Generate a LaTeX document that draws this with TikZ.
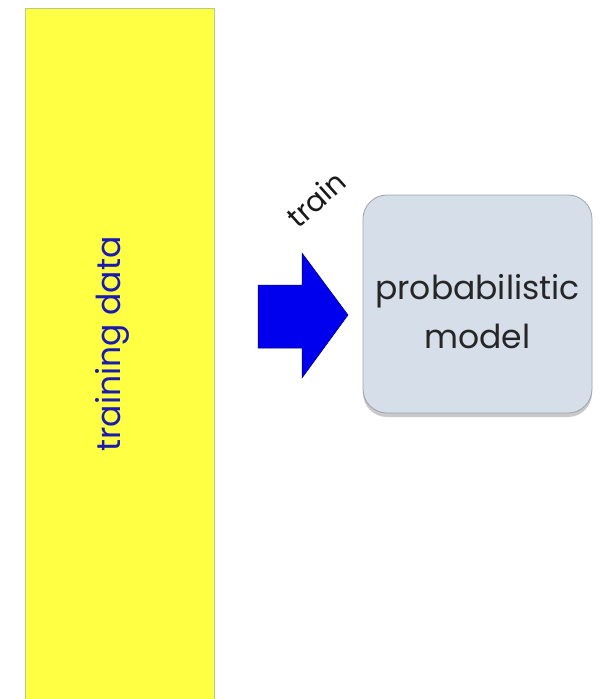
\documentclass[tikz,border=0pt]{standalone}
\usepackage{fontspec}
\setmainfont{Poppins}
\usetikzlibrary{shadows}
\definecolor{dataYellow}{HTML}{FFFF44}
\definecolor{dataEdge}{HTML}{B8C890}
\definecolor{modelFill}{HTML}{D6DEE9}
\definecolor{modelEdge}{HTML}{9AA4B0}
\definecolor{arrowBlue}{HTML}{0000EE}
\definecolor{labelBlue}{HTML}{1A1AB0}
\tikzset{
  px/.style={x=1pt,y=-1pt},
  databox/.style={draw=dataEdge, line width=0.8pt, fill=dataYellow},
  modelbox/.style={draw=modelEdge, line width=0.8pt, fill=modelFill, rounded corners=24pt,
    drop shadow={shadow xshift=0pt, shadow yshift=-4pt, opacity=0.35, fill=black!60}},
  bigarrow/.style={draw=black!60!blue, line width=0.5pt, fill=arrowBlue},
}
\begin{document}
\begin{tikzpicture}[px]
\useasboundingbox (0,0) rectangle (608,699);
\fill[white] (0,0) rectangle (608,699);
% training data bar
\draw[databox] (25,8) rectangle (214,702);
\node[rotate=90, text=labelBlue, font=\fontsize{33}{38}\selectfont, inner sep=0pt] (data) at (112,344) {training data};
% arrow
\draw[bigarrow] (258,285) -- (302,285) -- (302,253) -- (348,315) -- (302,378) -- (302,348) -- (258,348) -- cycle;
\coordinate (arrowtip) at (348,315);
\node[rotate=42, font=\fontsize{29}{34}\selectfont, inner sep=0pt, text=black!90] (train) at (316,199) {train};
% model box
\path[modelbox] (363,195) rectangle (592,413);
\node[align=center, font=\fontsize{33}{49}\selectfont, text=black!85] (model) at (477.5,312) {probabilistic\\model};
\end{tikzpicture}
\end{document}
